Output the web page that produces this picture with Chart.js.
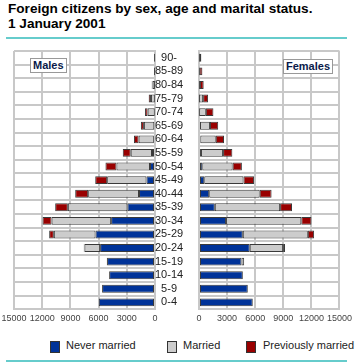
<!DOCTYPE html>
<html>
<head>
<meta charset="utf-8">
<script src="https://cdn.jsdelivr.net/npm/chart.js@4/dist/chart.umd.min.js"></script>
<style>
  html, body { margin: 0; padding: 0; background: #fff; }
  body { width: 356px; height: 363px; position: relative; overflow: hidden; font-family: "Liberation Sans", Arial, sans-serif; }
  #title { position: absolute; left: 8px; top: 2px; font-weight: bold; font-size: 13.6px; line-height: 14.5px; color: #000; white-space: nowrap; }
  .rule { position: absolute; left: 6px; width: 341px; height: 2px; background: #66CCCC; }
  #left { position: absolute; left: 0; top: 40px; }
  #right { position: absolute; left: 190px; top: 40px; }
  .tag { position: absolute; background: #fff; border: 1px solid #999; font-weight: bold; font-size: 11px; color: #0a1a4a; line-height: 13px; padding: 0 2px; }
  #legend { position: absolute; top: 340px; left: 0; width: 356px; height: 14px; font-size: 11px; color: #222; }
  .sw { position: absolute; top: 1px; width: 8px; height: 10px; border: 1px solid #333; }
  .lt { position: absolute; top: -1px; white-space: nowrap; }
</style>
</head>
<body>
<div id="title">Foreign citizens by sex, age and marital status.<br>1 January 2001</div>
<div class="rule" style="top:37px"></div>
<canvas id="left" width="199" height="290" style="width:199px;height:290px"></canvas>
<canvas id="right" width="166" height="290" style="width:166px;height:290px"></canvas>
<div class="tag" style="left:30px;top:58px;">Males</div>
<div class="tag" style="left:283px;top:59px;">Females</div>
<div id="legend">
  <div class="sw" style="left:50px;background:#003399"></div><div class="lt" style="left:66px">Never married</div>
  <div class="sw" style="left:167px;background:#CCCCCC"></div><div class="lt" style="left:183px">Married</div>
  <div class="sw" style="left:246px;background:#990000"></div><div class="lt" style="left:263px">Previously married</div>
</div>
<div class="rule" style="top:360px"></div>
<script>
// Categories (top to bottom)
const ageGroups = ["90-","85-89","80-84","75-79","70-74","65-69","60-64","55-59","50-54","45-49","40-44","35-39","30-34","25-29","20-24","15-19","10-14","5-9","0-4"];
const seriesNames = ["Never married","Married","Previously married"];
const xTicks = [0, 3000, 6000, 9000, 12000, 15000];

// Males
const maleNever   = [10, 10, 20, 30, 40, 80, 120, 320, 530, 910, 1700, 2930, 4670, 6330, 5840, 5100, 4880, 5630, 5980];
const maleMarried = [30, 50, 250, 400, 740, 1100, 1620, 2260, 3570, 4180, 5410, 6340, 6330, 4430, 1660, 30, 0, 0, 0];
const malePrev    = [20, 40, 80, 240, 290, 320, 500, 850, 1170, 1270, 1380, 1350, 960, 500, 80, 0, 0, 0, 0];

// Females
const femNever   = [20, 20, 20, 20, 30, 110, 140, 210, 350, 560, 1090, 1690, 2890, 4680, 5420, 4540, 4680, 5210, 5740];
const femMarried = [20, 40, 80, 420, 700, 1060, 1650, 2360, 3240, 4190, 5390, 6970, 8030, 6940, 3560, 280, 0, 0, 0];
const femPrev    = [210, 300, 400, 530, 810, 880, 880, 990, 990, 1130, 1270, 1270, 1090, 670, 210, 0, 0, 0, 0];

const colors = ["#003399", "#CCCCCC", "#990000"];
const gridColor = "#C8C8C8";
const tickFont = { family: "'Liberation Sans', Arial, sans-serif", size: 9 };

function makeDatasets(a, b, c) {
  return [a, b, c].map((d, i) => ({
    label: seriesNames[i],
    data: d,
    backgroundColor: colors[i],
    borderColor: "#3a3a3a",
    borderWidth: 1,
    borderSkipped: false,
    barPercentage: 0.58,
    categoryPercentage: 1.0
  }));
}

function xScale(reverse) {
  return {
    type: "linear",
    stacked: true,
    min: 0, max: 15000,
    reverse: reverse,
    afterBuildTicks: (ax) => { ax.ticks = xTicks.map(v => ({ value: v })); },
    grid: { color: gridColor, lineWidth: 2, drawTicks: false },
    border: { display: true, color: gridColor, width: 2 },
    ticks: { font: tickFont, color: "#444", padding: 4, maxRotation: 0, autoSkip: false, callback: (v) => String(v) }
  };
}

Chart.defaults.animation = false;

new Chart(document.getElementById("left"), {
  type: "bar",
  data: { labels: ageGroups, datasets: makeDatasets(maleNever, maleMarried, malePrev) },
  options: {
    indexAxis: "y",
    responsive: false,
    animation: false,
    layout: { padding: { top: 11, left: 14, bottom: 2, right: 0 } },
    plugins: { legend: { display: false }, tooltip: { enabled: false } },
    scales: {
      x: xScale(true),
      y: {
        stacked: true,
        position: "right",
        afterFit: (ax) => { ax.width = 44; },
        grid: { color: gridColor, lineWidth: 2, drawTicks: false, offset: true },
        border: { display: true, color: gridColor, width: 2 },
        ticks: { font: { family: "'Liberation Sans', Arial, sans-serif", size: 11 }, color: "#222", crossAlign: "center", padding: 0, autoSkip: false }
      }
    }
  }
});

new Chart(document.getElementById("right"), {
  type: "bar",
  data: { labels: ageGroups, datasets: makeDatasets(femNever, femMarried, femPrev) },
  options: {
    indexAxis: "y",
    responsive: false,
    animation: false,
    layout: { padding: { top: 11, left: 9, bottom: 2, right: 15 } },
    plugins: { legend: { display: false }, tooltip: { enabled: false } },
    scales: {
      x: xScale(false),
      y: {
        stacked: true,
        position: "left",
        afterFit: (ax) => { ax.width = 0; },
        grid: { color: gridColor, lineWidth: 2, drawTicks: false, offset: true },
        border: { display: true, color: gridColor, width: 2 },
        ticks: { display: false }
      }
    }
  }
});
</script>
</body>
</html>
